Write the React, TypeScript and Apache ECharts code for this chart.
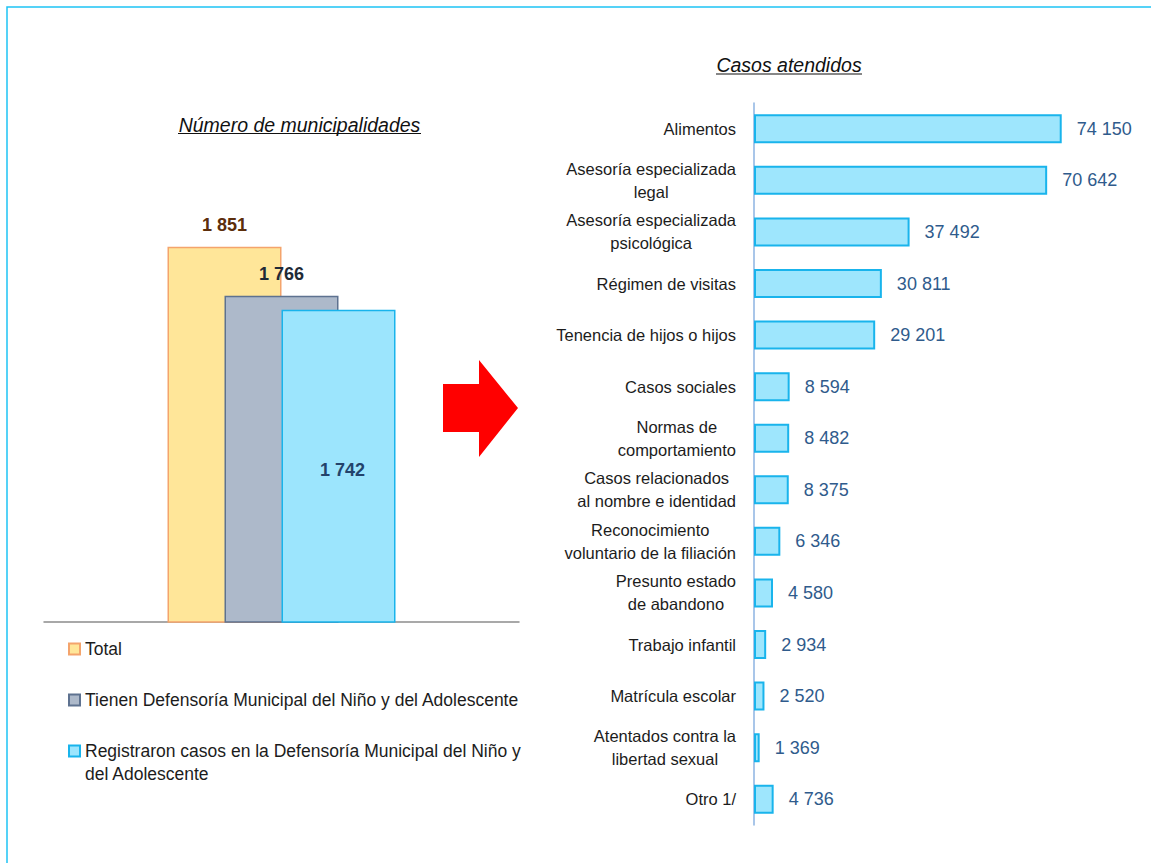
import React, { useEffect, useRef } from "react";
import * as echarts from "echarts";

const F = "'Liberation Sans', Arial, sans-serif";

// Left chart: Número de municipalidades
const muniSeriesNames = [
  "Total",
  "Tienen Defensoría Municipal del Niño y del Adolescente",
  "Registraron casos en la Defensoría Municipal del Niño y del Adolescente",
];
const muniValues = [1851, 1766, 1742];

// Right chart: Casos atendidos
const caseCategories = [
  "Alimentos",
  "Asesoría especializada\nlegal",
  "Asesoría especializada\npsicológica",
  "Régimen de visitas",
  "Tenencia de hijos o hijos",
  "Casos sociales",
  "Normas de\ncomportamiento",
  "Casos relacionados\nal nombre e identidad",
  "Reconocimiento\nvoluntario de la filiación",
  "Presunto estado\nde abandono",
  "Trabajo infantil",
  "Matrícula escolar",
  "Atentados contra la\nlibertad sexual",
  "Otro 1/",
];
const caseValues = [74150, 70642, 37492, 30811, 29201, 8594, 8482, 8375, 6346, 4580, 2934, 2520, 1369, 4736];

const fmt = (v: number) => String(v).replace(/\B(?=(\d{3})+(?!\d))/g, " ");

export default function App() {
  const ref = useRef<HTMLDivElement>(null);
  useEffect(() => {
    if (!ref.current) return;
    const chart = echarts.init(ref.current, undefined, { renderer: "svg" });
    const muniStyles = [
      { color: "#FFE699", borderColor: "#F4A46C", labelColor: "#5C2E0C", pos: "top", offset: [0, 0] },
      { color: "#ADB9CA", borderColor: "#5E7290", labelColor: "#1F2A36", pos: "top", offset: [0, 0] },
      { color: "#9CE5FD", borderColor: "#18B4EC", labelColor: "#23436B", pos: "inside", offset: [4, 4] },
    ];
    const legendText = { fontSize: 17.5, lineHeight: 23, fontFamily: F, color: "#1C1C1C" };
    const titleStyle = { fontFamily: F, fontStyle: "italic", fontSize: 19.5, fill: "#111", align: "center", verticalAlign: "middle" };
    const option: any = {
      animation: false,
      backgroundColor: "#fff",
      textStyle: { fontFamily: F },
      grid: [
        { left: 44, width: 475, top: 161, bottom: 241, containLabel: false },
        { left: 754, width: 332, top: 103, bottom: 38, containLabel: false },
      ],
      xAxis: [
        {
          gridIndex: 0,
          type: "category",
          data: [""],
          axisLine: { lineStyle: { color: "#8C8C8C", width: 1.5 } },
          axisTick: { show: false },
          axisLabel: { show: false },
        },
        { gridIndex: 1, type: "value", min: 0, max: 80000, show: false },
      ],
      yAxis: [
        { gridIndex: 0, type: "value", min: 1200, max: 2000, show: false },
        {
          gridIndex: 1,
          type: "category",
          data: caseCategories,
          inverse: true,
          axisLine: { lineStyle: { color: "#8DB3E2", width: 1.5 } },
          axisTick: { show: false },
          axisLabel: {
            margin: 18,
            align: "right",
            formatter: (v: string) => v.split("\n").map((l) => `{c|${l}}`).join("\n"),
            rich: { c: { align: "center", fontSize: 16.5, lineHeight: 23, fontFamily: F, color: "#1C1C1C" } },
          },
        },
      ],
      legend: [
        {
          data: [muniSeriesNames[0], muniSeriesNames[1]],
          orient: "vertical",
          left: 68,
          top: 637.5,
          padding: 0,
          itemGap: 28,
          itemWidth: 11,
          itemHeight: 11,
          icon: "rect",
          selectedMode: false,
          textStyle: legendText,
        },
        {
          data: [muniSeriesNames[2]],
          orient: "vertical",
          left: 68,
          top: 716.5,
          padding: 0,
          itemWidth: 11,
          itemHeight: 11,
          icon: "rect",
          selectedMode: false,
          formatter: () => " \nRegistraron casos en la Defensoría Municipal del Niño y\ndel Adolescente",
          textStyle: legendText,
        },
      ],
      series: [
        ...muniSeriesNames.map((name, i) => ({
          type: "bar",
          name,
          xAxisIndex: 0,
          yAxisIndex: 0,
          data: [muniValues[i]],
          barWidth: 114,
          barGap: "-50%",
          itemStyle: { color: muniStyles[i].color, borderColor: muniStyles[i].borderColor, borderWidth: 1.5 },
          label: {
            show: true,
            position: muniStyles[i].pos,
            distance: 13,
            offset: muniStyles[i].offset,
            formatter: (p: any) => fmt(p.value),
            fontFamily: F,
            fontWeight: "bold",
            fontSize: 18,
            color: muniStyles[i].labelColor,
          },
        })),
        {
          type: "bar",
          name: "Casos atendidos",
          xAxisIndex: 1,
          yAxisIndex: 1,
          data: caseValues,
          barWidth: 29,
          itemStyle: { color: "#9EE6FD", borderColor: "#19B4EC", borderWidth: 2 },
          label: {
            show: true,
            position: "right",
            distance: 15,
            formatter: (p: any) => fmt(p.value),
            fontFamily: F,
            fontSize: 18,
            color: "#2F5B8C",
          },
        },
      ],
      graphic: [
        {
          type: "rect",
          shape: { x: 7, y: 7, width: 1300, height: 1000 },
          style: { fill: "none", stroke: "#1EC3F5", lineWidth: 1.5 },
          silent: true,
        },
        { type: "text", x: 299.5, y: 124.5, style: { ...titleStyle, text: "Número de municipalidades" } },
        { type: "line", shape: { x1: 178, y1: 133.5, x2: 421, y2: 133.5 }, style: { stroke: "#111", lineWidth: 1.2 } },
        { type: "text", x: 789, y: 64.5, style: { ...titleStyle, text: "Casos atendidos" } },
        { type: "line", shape: { x1: 716, y1: 74, x2: 862, y2: 74 }, style: { stroke: "#111", lineWidth: 1.2 } },
        {
          type: "polygon",
          shape: {
            points: [
              [443, 384],
              [479, 384],
              [479, 360],
              [518, 408],
              [479, 457],
              [479, 432],
              [443, 432],
            ],
          },
          style: { fill: "#FF0000" },
        },
      ],
    };
    chart.setOption(option);
    return () => chart.dispose();
  }, []);
  return <div ref={ref} style={{ position: "absolute", left: 0, top: 0, width: 1151, height: 863 }} />;
}
